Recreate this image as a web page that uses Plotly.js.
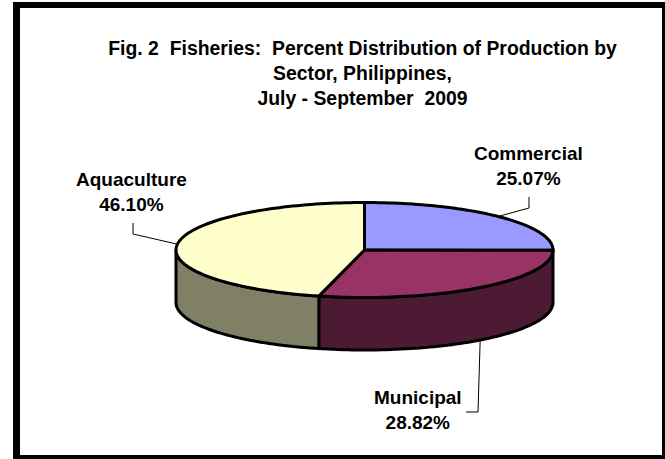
<!DOCTYPE html>
<html>
<head>
<meta charset="utf-8">
<script src="https://cdn.plot.ly/plotly-3.0.1.min.js"></script>
<style>html,body{margin:0;padding:0;background:#fff}</style>
</head>
<body>
<div id="chart" style="width:665px;height:459px"></div>
<script>
// Sector shares of fisheries production, in drawing order clockwise from 12 o'clock
const sectors = ["Commercial", "Municipal", "Aquaculture"];
const shares = [25.07, 28.82, 46.10];
const topColors = ["#9999FF", "#993366", "#FFFFCC"];
const sideColors = ["#4D4D80", "#4D1A33", "#808066"];
const titleLines = [
  "Fig. 2  Fisheries:  Percent Distribution of Production by",
  "Sector, Philippines,",
  "July - September  2009"
];

// Ellipse used to project the flat pie into an oblique view
const cx = 364.5, cy = 250, rx = 188.5, ry = 47.5, depth = 52.5;
const rad = d => d * Math.PI / 180;
const px = a => cx + rx * Math.sin(rad(a));
const py = a => cy - ry * Math.cos(rad(a));

function arc(from, to) {
  const n = Math.max(2, Math.ceil(Math.abs(to - from) / 1.5));
  return Array.from({length: n + 1}, (_, i) => from + (to - from) * i / n);
}

const total = shares.reduce((a, b) => a + b, 0);
let running = 0;
const slices = shares.map(v => {
  const from = running / total * 360;
  running += v;
  return {from, to: running / total * 360};
});

const polygon = (xs, ys, color) => ({
  type: "scatter", mode: "lines", x: xs, y: ys, fill: "toself", fillcolor: color,
  line: {color: "#000", width: 3, simplify: false}, hoverinfo: "skip", showlegend: false
});

const traces = [];

// Rim: only the part of each slice on the near half of the ellipse is visible
slices.forEach((s, i) => {
  const a = Math.max(s.from, 90), b = Math.min(s.to, 270);
  if (b - a < 1) return;
  const front = arc(a, b), back = arc(b, a);
  traces.push(polygon(
    front.map(px).concat(back.map(px), [px(a)]),
    front.map(t => py(t) + depth).concat(back.map(py), [py(a) + depth]),
    sideColors[i]
  ));
});

// Top faces
slices.forEach((s, i) => {
  const pts = arc(s.from, s.to);
  traces.push(polygon(
    [cx].concat(pts.map(px), [cx]),
    [cy].concat(pts.map(py), [cy]),
    topColors[i]
  ));
});

// Label placement for each sector: elbow of the leader line, its end, and text centre
const leaderElbow = [[529, 208], [478, 412], [133, 234]];
const leaderEnd = [[529, 197], [466, 412], [133, 223]];
const labelCentre = [[528, 153], [418, 397], [131.5, 179]];

slices.forEach((s, i) => {
  const mid = (s.from + s.to) / 2;
  const front = mid > 90 && mid < 270;
  traces.push({
    type: "scatter", mode: "lines",
    x: [px(mid), leaderElbow[i][0], leaderEnd[i][0]],
    y: [py(mid) + (front ? depth : 0), leaderElbow[i][1], leaderEnd[i][1]],
    line: {color: "#000", width: 1}, hoverinfo: "skip", showlegend: false
  });
});

const family = "Liberation Sans, Arial, sans-serif";
const bold = t => `<b>${t}</b>`;

const annotations = sectors.map((name, i) => ({
  xref: "x", yref: "y", x: labelCentre[i][0], y: labelCentre[i][1] + 13,
  text: bold(name) + "<br>" + bold(shares[i].toFixed(2) + "%"),
  showarrow: false, font: {family, size: 19, color: "#000"},
  xanchor: "center", yanchor: "middle", align: "center"
}));

const L = 13, T = 2, R = 662, B = 455, W = 7;
const layout = {
  width: 665, height: 459,
  margin: {l: 0, r: 0, t: 0, b: 0},
  paper_bgcolor: "#fff", plot_bgcolor: "#fff",
  showlegend: false,
  title: {
    text: titleLines.map(bold).join("<br>"),
    font: {family, size: 19.4, color: "#000"},
    x: 362.5 / 665, xanchor: "center", y: 1 - 55 / 459, yanchor: "top", xref: "paper", yref: "paper"
  },
  xaxis: {range: [0, 665], visible: false, fixedrange: true},
  yaxis: {range: [459, 0], visible: false, fixedrange: true},
  annotations,
  shapes: [{
    type: "path", xref: "paper", yref: "paper", fillrule: "evenodd",
    path: `M${L/665},${1-T/459} H${1.01} V${-0.01} H${L/665} Z ` +
          `M${(L+W)/665},${1-(T+W-1)/459} H${R/665} V${1-B/459} H${(L+W)/665} Z`,
    fillcolor: "#000", line: {width: 0}
  }]
};

Plotly.newPlot("chart", traces, layout, {staticPlot: true, displayModeBar: false});
</script>
</body>
</html>
